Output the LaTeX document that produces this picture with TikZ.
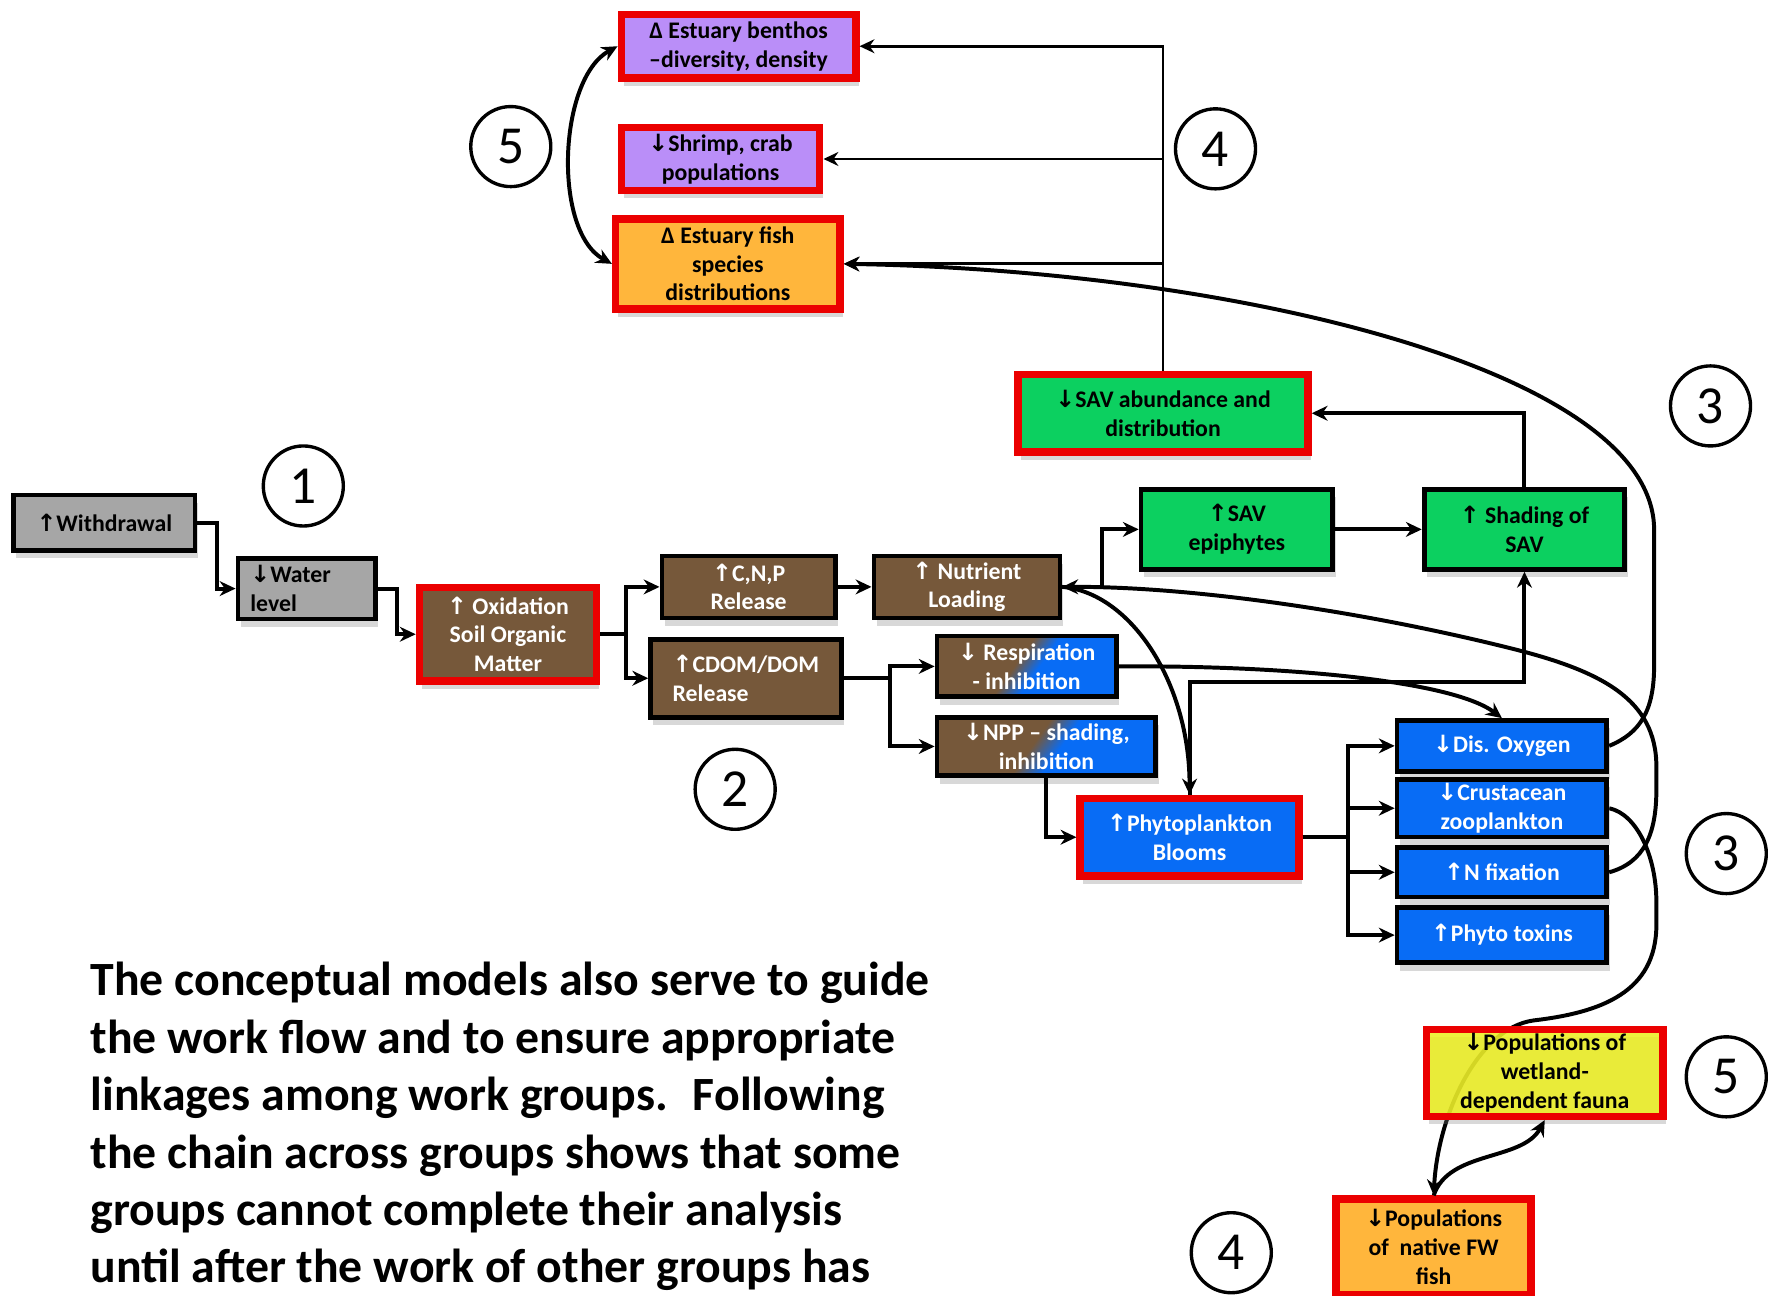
\documentclass[tikz,border=0pt]{standalone}
\usepackage{fontspec}
\setmainfont{Carlito}
\newfontfamily\arrowfont{DejaVu Sans}
\usetikzlibrary{
    shapes,
    arrows,
    arrows.meta,
    positioning,
    shadows,
    backgrounds,
}
\definecolor{driverGray}{RGB}{166,166,166}
\definecolor{soilBrown}{RGB}{118,88,58}
\definecolor{savGreen}{RGB}{12,208,96}
\definecolor{bloomBlue}{RGB}{8,108,245}
\definecolor{benthosPurple}{RGB}{186,142,248}
\definecolor{fishOrange}{RGB}{255,182,60}
\definecolor{faunaYellow}{RGB}{236,238,36}
\definecolor{rimRed}{RGB}{235,0,0}
\pgfdeclarehorizontalshading{brownblue}{100bp}{color(0bp)=(soilBrown); color(46bp)=(soilBrown); color(54bp)=(bloomBlue); color(100bp)=(bloomBlue)}
\newcommand{\upArr}{{\arrowfont ↑}}
\newcommand{\dnArr}{{\arrowfont ↓}}
\newcommand{\boxfont}{\fontsize{12}{14.5}\selectfont\bfseries}
\newcommand{\bodyfont}{\fontsize{24.1}{29}\selectfont\bfseries}
\newcommand{\numfont}{\fontsize{27}{30}\selectfont}
\tikzset{
    box/.style = {
        rectangle,
        align=center,
        inner sep=2pt,
        draw=black,
        line width=2.4pt,
        drop shadow={shadow xshift=0.05cm, shadow yshift=-0.14cm, opacity=0.3},
    },
    driver/.style = {
        box,
        fill=driverGray,
    },
    soil/.style = {
        box,
        fill=soilBrown,
        text=white,
    },
    mixed/.style = {
        box,
        shade,
        shading=brownblue,
        shading angle=-35,
        text=white,
    },
    plant/.style = {
        box,
        fill=savGreen,
    },
    bloom/.style = {
        box,
        fill=bloomBlue,
        text=white,
    },
    benthic/.style = {
        box,
        fill=benthosPurple,
    },
    fishbox/.style = {
        box,
        fill=fishOrange,
    },
    fauna/.style = {
        box,
        fill=faunaYellow,
    },
    keyitem/.style = {
        draw=rimRed,
        line width=3.8pt,
    },
    groupnum/.style = {
        circle,
        draw,
        line width=1.7pt,
        minimum size=1.42cm,
        inner sep=0pt,
        font=\numfont,
    },
}
\tikzstyle{arrow} = [
    line width=2pt,
    ->,
    >={Stealth[length=8pt, width=7.5pt]}
]
\tikzstyle{thinarrow} = [
    line width=1.4pt,
    ->,
    >={Stealth[length=7.5pt, width=7pt]}
]

\begin{document}
\begin{tikzpicture}[x=0.02cm, y=-0.02cm]
        \tikzstyle{every node}=[font=\boxfont]
        \useasboundingbox (0,0) rectangle (1568,1149);

        % group 1: water withdrawal
        \node [driver, minimum width=3.22cm, minimum height=0.98cm] (withdrawal) at (92.5,463.5)
        {\upArr Withdrawal};

        \node [driver, minimum width=2.44cm, minimum height=1.08cm, text width=2.0cm, align=left] (water) at (272,522)
        {\dnArr Water\\level};

        \node [soil, keyitem, minimum width=3.14cm, minimum height=1.66cm] (oxid) at (450.5,562.5)
        {\upArr{} Oxidation\\Soil Organic\\Matter};

        % group 2: soil and water column
        \node [soil, minimum width=3.08cm, minimum height=1.1cm] (cnp) at (664,520.5)
        {\upArr C,N,P\\Release};

        \node [soil, minimum width=3.38cm, minimum height=1.38cm, align=left] (cdom) at (661.5,601.5)
        {\upArr CDOM/DOM\\Release};

        \node [soil, minimum width=3.3cm, minimum height=1.1cm] (nutrient) at (857.5,520.5)
        {\upArr{} Nutrient\\Loading};

        \node [mixed, minimum width=3.18cm, minimum height=1.08cm] (resp) at (910.5,591)
        {\dnArr{} Respiration\\- inhibition};

        \node [mixed, minimum width=3.88cm, minimum height=1.04cm] (npp) at (928,662)
        {\dnArr NPP -- shading,\\inhibition};

        \node [bloom, keyitem, minimum width=3.88cm, minimum height=1.38cm] (phyto) at (1055,742.5)
        {\upArr Phytoplankton\\Blooms};

        % group 3: SAV and water quality
        \node [plant, minimum width=3.4cm, minimum height=1.42cm] (epiph) at (1097,469.5)
        {\upArr SAV\\epiphytes};

        \node [plant, minimum width=3.56cm, minimum height=1.42cm] (shading) at (1352,469.5)
        {\upArr{} Shading of\\SAV};

        \node [plant, keyitem, minimum width=5.14cm, minimum height=1.38cm] (savAbund) at (1031.5,366.5)
        {\dnArr SAV abundance and\\distribution};

        \node [bloom, minimum width=3.72cm, minimum height=0.9cm] (disOx) at (1332,661.5)
        {\dnArr Dis. Oxygen};

        \node [bloom, below=0.06cm of disOx, minimum width=3.72cm, minimum height=0.96cm] (crust)
        {\dnArr Crustacean\\zooplankton};

        \node [bloom, below=0.1cm of crust, minimum width=3.72cm, minimum height=0.88cm] (nFix)
        {\upArr N fixation};

        \node [bloom, below=0.1cm of nFix, minimum width=3.72cm, minimum height=0.98cm] (toxins)
        {\upArr Phyto toxins};

        % groups 4 and 5: estuary and wetland fauna
        \node [benthic, keyitem, minimum width=4.16cm, minimum height=1.12cm] (benthos) at (655,41)
        {Δ Estuary benthos\\–diversity, density};

        \node [benthic, keyitem, minimum width=3.52cm, minimum height=1.12cm] (shrimp) at (639,141)
        {\dnArr Shrimp, crab\\populations};

        \node [fishbox, keyitem, minimum width=3.98cm, minimum height=1.6cm] (estFish) at (645.5,234)
        {Δ Estuary fish\\species\\distributions};

        \node [fauna, keyitem, fill opacity=0.88, text opacity=1, minimum width=4.2cm, minimum height=1.54cm] (wetland) at (1370,951.5)
        {\dnArr Populations of\\wetland-\\dependent fauna};

        \node [fishbox, keyitem, minimum width=3.46cm, minimum height=1.7cm] (fwFish) at (1271.5,1106)
        {\dnArr Populations\\of~ native FW\\fish};

        % group numbers
        \node [groupnum] (grpOne) at (269,431) {1};
        \node [groupnum] (grpTwo) at (652,700) {2};
        \node [groupnum] (grpThreeA) at (1517,360) {3};
        \node [groupnum] (grpThreeB) at (1531,757) {3};
        \node [groupnum] (grpFourA) at (1078,132) {4};
        \node [groupnum] (grpFourB) at (1092,1111) {4};
        \node [groupnum] (grpFiveA) at (453,130) {5};
        \node [groupnum] (grpFiveB) at (1531,955) {5};

        \node [anchor=north west, align=left, inner sep=0pt, font=\bodyfont] (note) at (80,853)
        {The conceptual models also serve to guide\\
        the work flow and to ensure appropriate\\
        linkages among work groups.~ Following\\
        the chain across groups shows that some\\
        groups cannot complete their analysis\\
        until after the work of other groups has};

        \draw [arrow] (withdrawal.east) -- ++(17,0) |- (water.west);
        \draw [arrow] (water.east) -- ++(17,0) |- (oxid.west);
        \draw [arrow] (oxid.east) -- ++(23,0) |- (cnp.west);
        \draw [arrow] (oxid.east) -- ++(23,0) |- (cdom.west);
        \draw [arrow] (cnp) -- (nutrient);
        \draw [arrow] (cdom.east) -- ++(41,0) |- (resp.west);
        \draw [arrow] (cdom.east) -- ++(41,0) |- (npp.west);
        \draw [arrow] (nutrient.east) -- ++(35,0) |- (epiph.west);
        \draw [arrow] (epiph) -- (shading);
        \draw [arrow] (shading.north) |- (savAbund.east);
        \draw [thinarrow] (savAbund.north) |- (benthos.east);
        \draw [thinarrow] (savAbund.north) |- (shrimp.east);
        \draw [thinarrow] (savAbund.north) |- (estFish.east);
        \draw [arrow] (npp.south) |- (phyto.west);
        \draw [arrow] (phyto.north) -- ++(0,-100) -| (shading.south);
        \draw [arrow] (phyto.east) -- ++(40,0) |- (disOx.west);
        \draw [arrow] (phyto.east) -- ++(40,0) |- (crust.west);
        \draw [arrow] (phyto.east) -- ++(40,0) |- (nFix.west);
        \draw [arrow] (phyto.east) -- ++(40,0) |- (toxins.west);

        % feedback curves
        \draw [arrow] (nutrient.east) .. controls +(60,5) and +(0,-100) .. (phyto.north);
        \draw [arrow] (resp.east) .. controls (1150,590) and (1290,605) .. (disOx.north);
        \draw [arrow] (disOx.east) .. controls (1455,650) and (1467,630) .. (1467,590)
            -- (1467,470) .. controls (1467,330) and (1100,240) .. (estFish.east);
        \draw [arrow] (nFix.east) .. controls (1458,765) and (1469,740) .. (1469,700)
            -- (1469,680) .. controls (1469,620) and (1420,595) .. (1340,575)
            .. controls (1200,540) and (1050,520) .. (nutrient.east);
        \draw [arrow, <->] (benthos.west) .. controls (495,70) and (490,205) .. (estFish.west);
        \draw [arrow] (fwFish.north) .. controls (1285,1020) and (1350,1030) .. (wetland.south);

        \begin{pgfonlayer}{background}
        \fill [white] (0,0) rectangle (1568,1149);
        \draw [arrow] (crust.east) .. controls (1452,722) and (1469,760) .. (1469,800)
            -- (1469,820) .. controls (1469,880) and (1420,898) .. (1360,905)
            .. controls (1310,912) and (1275,990) .. (fwFish.north);
        \end{pgfonlayer}

    \end{tikzpicture}
\end{document}
